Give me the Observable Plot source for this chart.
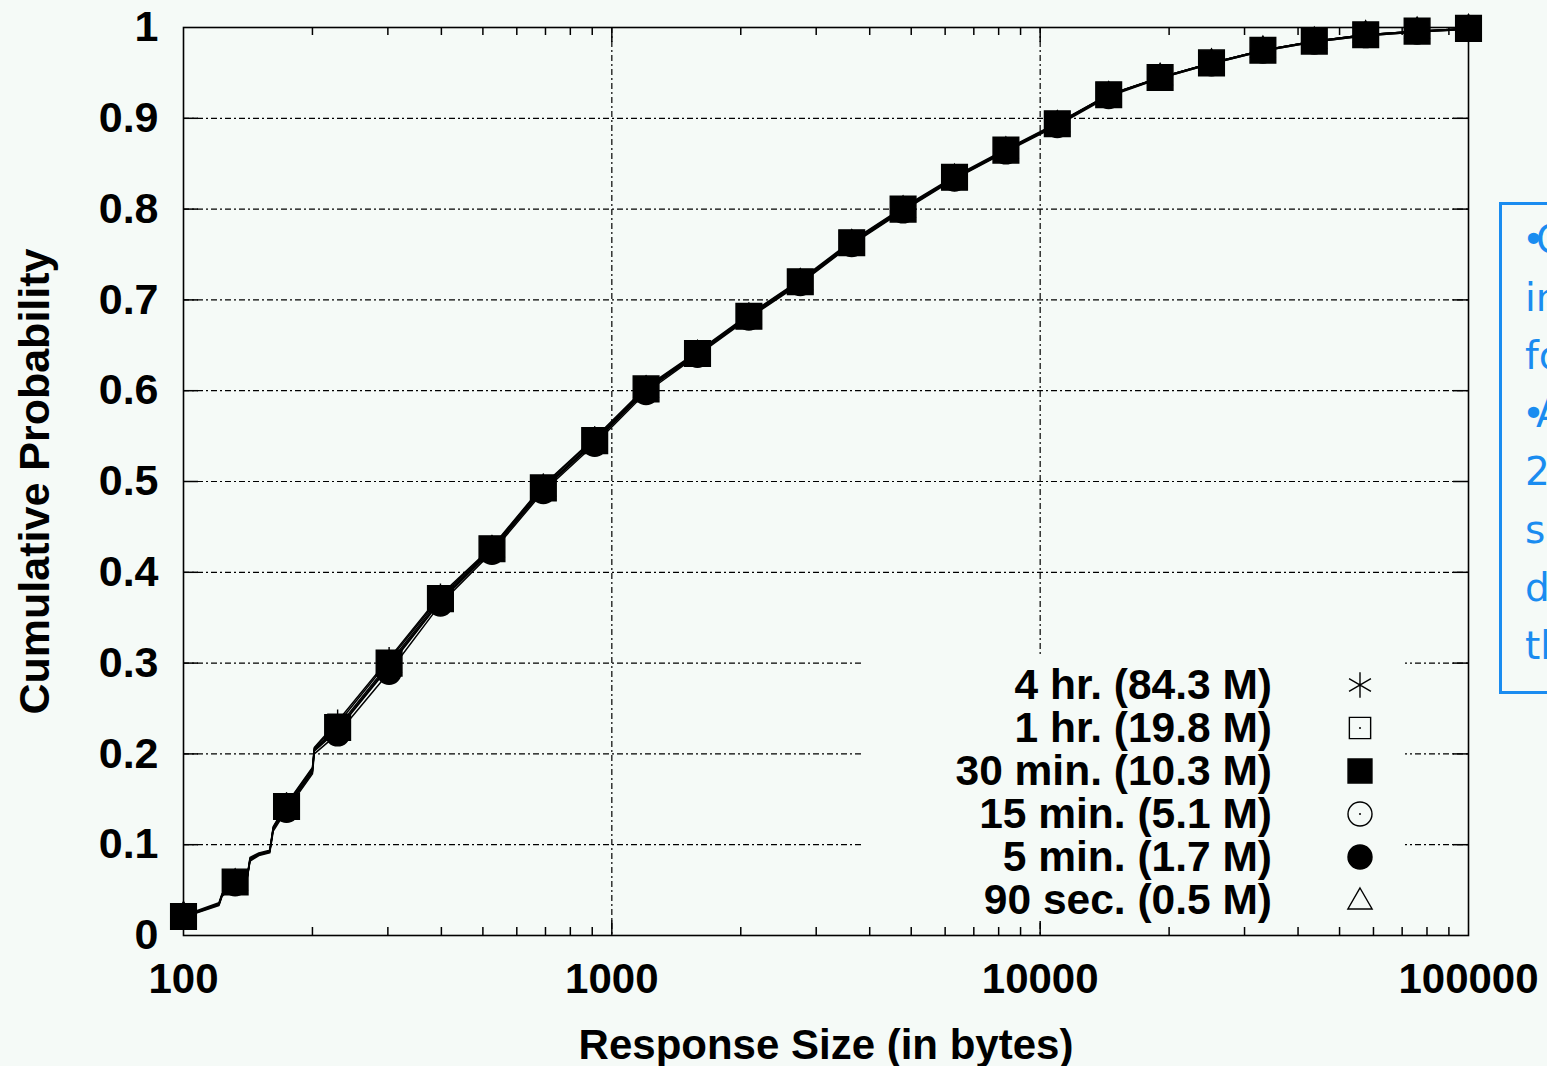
<!DOCTYPE html>
<html><head><meta charset="utf-8">
<script src="https://cdn.jsdelivr.net/npm/d3@7"></script>
<script src="https://cdn.jsdelivr.net/npm/@observablehq/plot@0.6"></script>
<style>
html,body{margin:0;padding:0;background:#f5faf7;overflow:hidden;}
#wrap{position:relative;width:1547px;height:1066px;overflow:hidden;background:#f5faf7;}
#mask{position:absolute;left:862px;top:656px;width:543px;height:265px;background:#f5faf7;}
.lrow{position:absolute;left:862px;width:600px;height:43px;font:bold 42.5px 'Liberation Sans',Arial,sans-serif;color:#000;}
.lrow .lt{position:absolute;right:190px;top:0;line-height:43px;white-space:nowrap;}
.lrow svg{position:absolute;left:481px;top:5px;}
#note{position:absolute;left:1499px;top:202px;width:420px;height:480px;border:3px solid #1a8cf0;color:#1a8cf0;
  font:39px 'DejaVu Sans',Verdana,sans-serif;line-height:58px;padding:6px 0 0 23px;white-space:nowrap;box-sizing:content-box;}
#note .b{letter-spacing:-9px;margin-left:-3px;}
</style></head><body><div id="wrap"></div>
<script>
// ---- data ----
const seriesNames = ["4 hr. (84.3 M)", "1 hr. (19.8 M)", "30 min. (10.3 M)", "15 min. (5.1 M)", "5 min. (1.7 M)", "90 sec. (0.5 M)"];
const sizes = [100, 121, 123, 132, 141, 143, 150, 159, 162, 174, 200, 202, 229, 302, 398, 525, 692, 912, 1202, 1585, 2089, 2754, 3631, 4786, 6310, 8318, 10965, 14454, 19055, 25119, 33113, 43652, 57544, 75858, 100000];
const markerSizes = [100, 132, 174, 229, 302, 398, 525, 692, 912, 1202, 1585, 2089, 2754, 3631, 4786, 6310, 8318, 10965, 14454, 19055, 25119, 33113, 43652, 57544, 75858, 100000];
const cdf4hr  = [.022,.036,.046,.060,.067,.086,.091,.094,.120,.145,.185,.207,.236,.305,.375,.428,.496,.548,.604,.643,.684,.722,.765,.802,.836,.866,.895,.926,.945,.961,.975,.985,.992,.996,.999];
const cdf1hr  = [.021,.035,.045,.060,.066,.085,.090,.093,.119,.144,.184,.206,.233,.303,.373,.427,.495,.547,.603,.642,.683,.721,.764,.801,.835,.865,.894,.926,.945,.961,.975,.985,.992,.996,.999];
const cdf30m  = [.021,.035,.045,.059,.066,.084,.090,.093,.118,.142,.182,.205,.229,.300,.371,.426,.493,.545,.602,.641,.682,.720,.763,.800,.835,.865,.894,.926,.945,.961,.975,.985,.992,.996,.999];
const cdf15m  = [.020,.034,.044,.058,.065,.083,.089,.092,.117,.140,.180,.203,.226,.296,.368,.424,.491,.543,.600,.640,.681,.719,.762,.799,.834,.864,.893,.925,.944,.960,.974,.984,.991,.995,.998];
const cdf5m   = [.020,.033,.043,.057,.064,.082,.088,.091,.115,.138,.178,.200,.222,.290,.365,.422,.489,.541,.598,.639,.680,.718,.761,.798,.833,.863,.892,.924,.944,.960,.974,.984,.991,.995,.998];
const cdf90s  = [.022,.034,.044,.058,.065,.083,.089,.093,.118,.141,.181,.204,.227,.298,.369,.425,.492,.544,.601,.640,.681,.719,.762,.799,.834,.864,.893,.925,.945,.961,.975,.985,.992,.996,.999];
const xTicks = [100, 1000, 10000, 100000];
const xTickLabels = ["100", "1000", "10000", "100000"];
const xMinor = [200,300,400,500,600,700,800,900,2000,3000,4000,5000,6000,7000,8000,9000,20000,30000,40000,50000,60000,70000,80000,90000];
const yTicks = [0, 0.1, 0.2, 0.3, 0.4, 0.5, 0.6, 0.7, 0.8, 0.9, 1];
const yTickLabels = ["0", "0.1", "0.2", "0.3", "0.4", "0.5", "0.6", "0.7", "0.8", "0.9", "1"];
const xLabel = "Response Size (in bytes)";
const yLabel = "Cumulative Probability";
const noteLines = ["•CDFs are nearly", "indistinguishable", "for all durations", "•A trace of", "20 minutes is", "sufficient to", "determine", "the distribution"];

// ---- build ----
const allCdfs = [cdf4hr, cdf1hr, cdf30m, cdf15m, cdf5m, cdf90s];
const rows = [];
allCdfs.forEach((arr, s) => arr.forEach((p, i) => rows.push({series: seriesNames[s], size: sizes[i], p})));
const markerSet = new Set(markerSizes);
const markerRows = rows.filter(d => markerSet.has(d.size));
const xFmt = new Map(xTicks.map((d, i) => [d, xTickLabels[i]]));
const yFmt = new Map(yTicks.map((d, i) => [d, yTickLabels[i]]));

const W = 1547, H = 1066, mL = 183, mR = 79, mT = 27, mB = 131;
const fw = W - mL - mR, fh = H - mT - mB;
const majorLen = 15, minorLen = 8;

const styles = [
  {symbol: "asterisk", fill: "none", stroke: "#000", r: 12, pr: 11},
  {symbol: "square", fill: "none", stroke: "#000", r: 12, pr: 11},
  {symbol: "square", fill: "#000", stroke: "#000", r: 13.5, pr: 14.5},
  {symbol: "circle", fill: "none", stroke: "#000", r: 12, pr: 11},
  {symbol: "circle", fill: "#000", stroke: "#000", r: 12, pr: 12},
  {symbol: "triangle", fill: "none", stroke: "#000", r: 9, pr: 9}
];
const drawOrder = [0, 1, 3, 4, 5, 2]; // filled squares end up on top
const dash = {stroke: "#000", strokeOpacity: 1, strokeWidth: 1.2, strokeDasharray: "6,3,2,3"};

const chart = Plot.plot({
  width: W, height: H,
  marginLeft: mL, marginRight: mR, marginTop: mT, marginBottom: mB,
  style: {background: "transparent", fontFamily: "'Liberation Sans', Arial, sans-serif", fontWeight: "bold", fontSize: "42px", color: "#000"},
  x: {type: "log", domain: [100, 100000]},
  y: {domain: [0, 1]},
  marks: [
    Plot.gridY(yTicks.filter(d => d > 0 && d < 1), dash),
    Plot.gridX(xTicks.filter(d => d > 100 && d < 100000), dash),
    Plot.line(rows, {x: "size", y: "p", z: "series", stroke: "#000", strokeWidth: 1.5}),
    ...drawOrder.map(s => {
      const st = styles[s];
      return Plot.dot(markerRows.filter(d => d.series === seriesNames[s]),
        {x: "size", y: "p", symbol: () => st.symbol, r: st.pr, fill: st.fill, stroke: st.stroke, strokeWidth: 1.4});
    }),
    Plot.tickX(xTicks.filter(d => d > 100 && d < 100000), {x: d => d, stroke: "#000", strokeWidth: 1.5, insetTop: fh - majorLen}),
    Plot.tickX(xTicks.filter(d => d > 100 && d < 100000), {x: d => d, stroke: "#000", strokeWidth: 1.5, insetBottom: fh - majorLen}),
    Plot.tickX(xMinor, {x: d => d, stroke: "#000", strokeWidth: 1.5, insetTop: fh - minorLen}),
    Plot.tickX(xMinor, {x: d => d, stroke: "#000", strokeWidth: 1.5, insetBottom: fh - minorLen}),
    Plot.tickY(yTicks.filter(d => d > 0 && d < 1), {y: d => d, stroke: "#000", strokeWidth: 1.5, insetRight: fw - majorLen}),
    Plot.tickY(yTicks.filter(d => d > 0 && d < 1), {y: d => d, stroke: "#000", strokeWidth: 1.5, insetLeft: fw - majorLen}),
    Plot.frame({stroke: "#000", strokeWidth: 1.6}),
    Plot.axisX({ticks: xTicks, tickFormat: d => xFmt.get(d), tickSize: 0, tickPadding: 28,
      label: xLabel, labelAnchor: "center", labelOffset: 123, labelArrow: "none"}),
    Plot.axisY({ticks: yTicks, tickFormat: d => yFmt.get(d), tickSize: 0, tickPadding: 25,
      label: yLabel, labelAnchor: "center", labelOffset: 165, labelArrow: "none", fontSize: 43})
  ]
});
const wrap = document.getElementById("wrap");
wrap.appendChild(chart);

// legend (inside plot area, opaque box hides grid)
const mask = document.createElement("div"); mask.id = "mask"; wrap.appendChild(mask);
const legendTop = 663, legendStep = 43;
function symSvg(st) {
  const size = 34, c = size / 2;
  const sym = {asterisk: d3.symbolAsterisk, square: d3.symbolSquare, circle: d3.symbolCircle, triangle: d3.symbolTriangle}[st.symbol];
  const path = d3.symbol(sym, Math.PI * st.r * st.r)();
  let extra = "";
  if (st.fill === "none" && (st.symbol === "square" || st.symbol === "circle")) extra = `<circle cx="${c}" cy="${c}" r="1" fill="#000"/>`;
  return `<svg width="${size}" height="${size}"><path transform="translate(${c},${c + (st.symbol === "triangle" ? 2 : 0)})" d="${path}" fill="${st.fill}" stroke="#000" stroke-width="1.4"/>${extra}</svg>`;
}
seriesNames.forEach((name, i) => {
  const row = document.createElement("div");
  row.className = "lrow";
  row.style.top = (legendTop + i * legendStep) + "px";
  row.innerHTML = `<span class="lt">${name}</span>${symSvg(styles[i])}`;
  wrap.appendChild(row);
});

// blue note box, cut by the page edge
const note = document.createElement("div"); note.id = "note";
note.innerHTML = noteLines.map(l => l.startsWith("•") ? `<span class="b">•</span>${l.slice(1)}` : l).join("<br>");
wrap.appendChild(note);
</script></body></html>
